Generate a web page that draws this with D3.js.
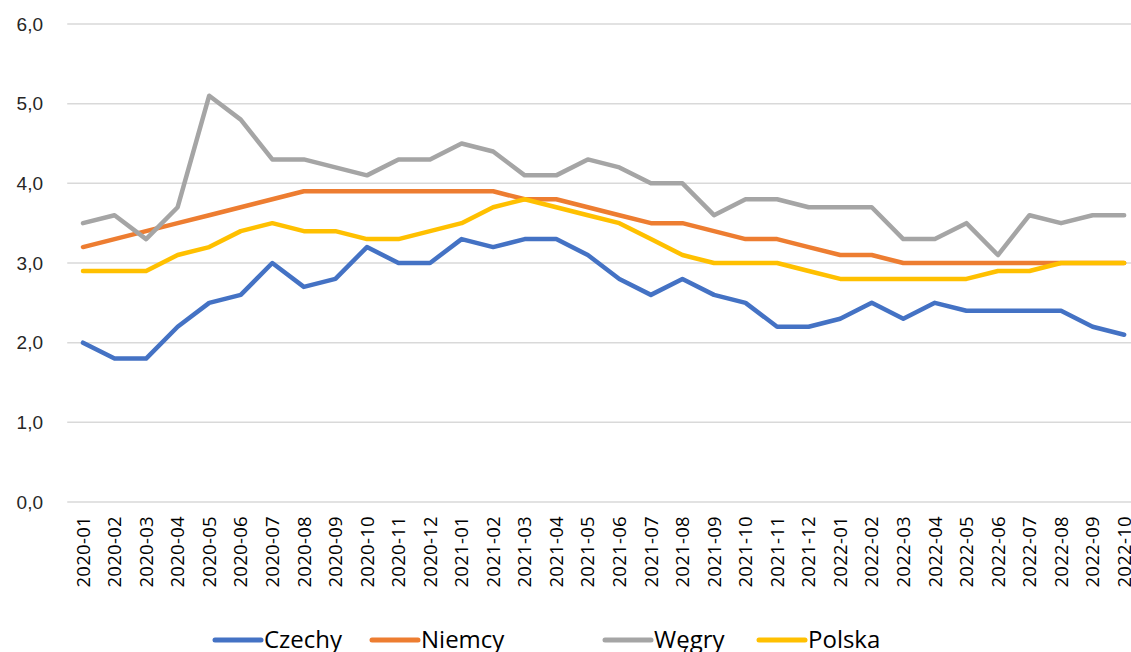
<!DOCTYPE html>
<meta charset="utf-8">
<style>
body { margin: 0; background: #fff; overflow: hidden; }
.grid line { stroke: #D9D9D9; stroke-width: 1.5; }
.line { fill: none; stroke-width: 4.5px; stroke-linejoin: round; stroke-linecap: round; }
</style>
<body>
<svg width="1131" height="652"></svg>
<script src="https://d3js.org/d3.v7.min.js"></script>
<script>

var months = ["2020-01","2020-02","2020-03","2020-04","2020-05","2020-06","2020-07","2020-08","2020-09","2020-10","2020-11","2020-12",
              "2021-01","2021-02","2021-03","2021-04","2021-05","2021-06","2021-07","2021-08","2021-09","2021-10","2021-11","2021-12",
              "2022-01","2022-02","2022-03","2022-04","2022-05","2022-06","2022-07","2022-08","2022-09","2022-10"];

var czechy = [2.0,1.8,1.8,2.2,2.5,2.6,3.0,2.7,2.8,3.2,3.0,3.0,3.3,3.2,3.3,3.3,3.1,2.8,2.6,2.8,2.6,2.5,2.2,2.2,2.3,2.5,2.3,2.5,2.4,2.4,2.4,2.4,2.2,2.1];
var niemcy = [3.2,3.3,3.4,3.5,3.6,3.7,3.8,3.9,3.9,3.9,3.9,3.9,3.9,3.9,3.8,3.8,3.7,3.6,3.5,3.5,3.4,3.3,3.3,3.2,3.1,3.1,3.0,3.0,3.0,3.0,3.0,3.0,3.0,3.0];
var wegry  = [3.5,3.6,3.3,3.7,5.1,4.8,4.3,4.3,4.2,4.1,4.3,4.3,4.5,4.4,4.1,4.1,4.3,4.2,4.0,4.0,3.6,3.8,3.8,3.7,3.7,3.7,3.3,3.3,3.5,3.1,3.6,3.5,3.6,3.6];
var polska = [2.9,2.9,2.9,3.1,3.2,3.4,3.5,3.4,3.4,3.3,3.3,3.4,3.5,3.7,3.8,3.7,3.6,3.5,3.3,3.1,3.0,3.0,3.0,2.9,2.8,2.8,2.8,2.8,2.8,2.9,2.9,3.0,3.0,3.0];

var yTicks = [0,1,2,3,4,5,6];

var series = [
  {name: "Czechy", values: czechy, color: "#4472C4"},
  {name: "Niemcy", values: niemcy, color: "#ED7D31"},
  {name: "Węgry",  values: wegry,  color: "#A5A5A5"},
  {name: "Polska", values: polska, color: "#FFC000"}
];

var svg = d3.select("svg");

var step = 31.55,
    left = 83 - step / 2;

var x = d3.scalePoint()
    .domain(months)
    .range([83, 83 + step * (months.length - 1)]);

var y = d3.scaleLinear()
    .domain([0, 6])
    .range([502, 24]);

// gridlines
svg.append("g")
    .attr("class", "grid")
    .selectAll("line")
    .data(yTicks)
    .enter().append("line")
      .attr("x1", left)
      .attr("x2", 1131)
      .attr("y1", function(d) { return y(d); })
      .attr("y2", function(d) { return y(d); });

// y labels
var fmt = function(d) { return d3.format(".1f")(d).replace(".", ","); };
svg.append("g")
    .selectAll("text")
    .data(yTicks)
    .enter().append("text")
      .attr("x", 43)
      .attr("y", function(d) { return y(d); })
      .attr("dy", "0.35em")
      .attr("text-anchor", "end")
      .style("font-family", "Liberation Sans, Arial, sans-serif")
      .style("font-size", "19px")
      .style("fill", "#262626")
      .text(fmt);

// x labels, rotated
svg.append("g")
    .selectAll("text")
    .data(months)
    .enter().append("text")
      .attr("transform", function(d) { return "translate(" + x(d) + ",516) rotate(-90)"; })
      .attr("text-anchor", "end")
      .attr("dy", "0.36em")
      .style("font-family", "Open Sans, sans-serif")
      .style("font-size", "18.5px")
      .style("letter-spacing", "0.3px")
      .style("fill", "#000")
      .text(function(d) { return d; });

var line = d3.line()
    .x(function(d, i) { return x(months[i]); })
    .y(function(d) { return y(d); });

svg.selectAll(".line")
    .data(series)
    .enter().append("path")
      .attr("class", "line")
      .attr("stroke", function(d) { return d.color; })
      .attr("d", function(d) { return line(d.values); });

// legend
var legendX = [215, 372, 605, 759];
var legend = svg.selectAll(".legend")
    .data(series)
    .enter().append("g")
      .attr("transform", function(d, i) { return "translate(" + legendX[i] + ",640)"; });

legend.append("line")
    .attr("x1", 0).attr("x2", 46)
    .attr("stroke", function(d) { return d.color; })
    .attr("stroke-width", 5)
    .attr("stroke-linecap", "round");

legend.append("text")
    .attr("x", 49)
    .attr("dy", "0.35em")
    .style("font-family", "Open Sans, sans-serif")
    .style("font-size", "24px")
    .style("fill", "#000")
    .text(function(d) { return d.name; });

</script>
</body>
